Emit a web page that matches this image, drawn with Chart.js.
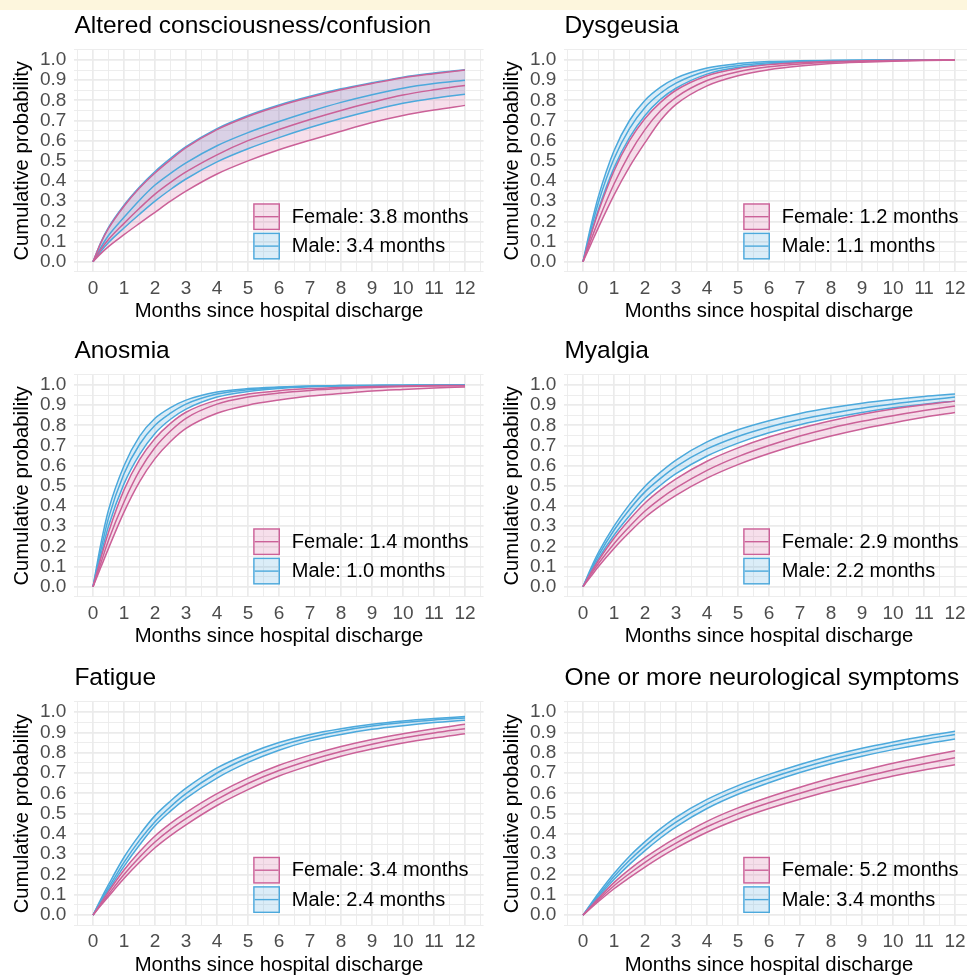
<!DOCTYPE html>
<html>
<head>
<meta charset="utf-8">
<script src="https://cdn.jsdelivr.net/npm/chart.js"></script>
<style>
html,body{margin:0;padding:0;background:#ffffff;}
body{width:967px;height:975px;overflow:hidden;position:relative;}
#band{position:absolute;left:0;top:0;width:967px;height:10px;background:#FDF6DD;}
canvas{position:absolute;}
</style>
</head>
<body>
<div id="band"></div>
<script>
// ---------------- DATA ----------------
const months = [0, 0.25, 0.5, 1, 1.5, 2, 2.5, 3, 4, 5, 6, 7, 8, 9, 10, 11, 12];
const xTickLabels = ['0','1','2','3','4','5','6','7','8','9','10','11','12'];
const yTickLabels = ['0.0','0.1','0.2','0.3','0.4','0.5','0.6','0.7','0.8','0.9','1.0'];
const panelTitles = ['Altered consciousness/confusion', 'Dysgeusia', 'Anosmia', 'Myalgia', 'Fatigue', 'One or more neurological symptoms'];
const femaleLabels = ['Female: 3.8 months', 'Female: 1.2 months', 'Female: 1.4 months', 'Female: 2.9 months', 'Female: 3.4 months', 'Female: 5.2 months'];
const maleLabels = ['Male: 3.4 months', 'Male: 1.1 months', 'Male: 1.0 months', 'Male: 2.2 months', 'Male: 2.4 months', 'Male: 3.4 months'];
const xAxisTitle = 'Months since hospital discharge';
const yAxisTitle = 'Cumulative probability';

// Altered consciousness/confusion
const confusionFemaleLow  = [0, .04, .075, .134, .19, .245, .30, .35, .435, .50, .555, .602, .647, .69, .725, .752, .775];
const confusionFemaleMid  = [0, .06, .11, .19, .265, .335, .393, .445, .53, .60, .655, .705, .75, .79, .826, .852, .874];
const confusionFemaleHigh = [0, .092, .165, .275, .365, .44, .505, .565, .655, .72, .772, .815, .852, .883, .912, .932, .95];
const confusionMaleLow    = [0, .05, .095, .167, .235, .30, .358, .41, .495, .56, .615, .665, .71, .75, .785, .81, .83];
const confusionMaleMid    = [0, .07, .13, .22, .305, .38, .438, .49, .575, .64, .695, .745, .79, .828, .86, .883, .90];
const confusionMaleHigh   = [0, .095, .17, .28, .37, .447, .512, .57, .66, .725, .777, .82, .857, .887, .915, .935, .952];

// Dysgeusia
const dysgeusiaFemaleLow  = [0, .085, .17, .33, .47, .59, .70, .78, .872, .922, .952, .97, .982, .989, .994, .997, .999];
const dysgeusiaFemaleMid  = [0, .105, .205, .385, .535, .655, .748, .815, .898, .942, .966, .98, .989, .994, .997, .999, 1];
const dysgeusiaFemaleHigh = [0, .13, .25, .45, .60, .71, .79, .85, .922, .958, .977, .987, .993, .996, .998, .999, 1];
const dysgeusiaMaleLow    = [0, .135, .26, .465, .615, .725, .805, .86, .93, .963, .98, .99, .995, .998, .999, 1, 1];
const dysgeusiaMaleMid    = [0, .155, .295, .51, .66, .765, .835, .885, .945, .972, .986, .993, .997, .999, 1, 1, 1];
const dysgeusiaMaleHigh   = [0, .175, .325, .55, .70, .80, .865, .91, .96, .982, .992, .996, .998, .999, 1, 1, 1];

// Anosmia
const anosmiaFemaleLow  = [0, .095, .19, .37, .52, .635, .72, .785, .86, .90, .925, .945, .958, .97, .978, .985, .99];
const anosmiaFemaleMid  = [0, .115, .23, .42, .575, .69, .772, .835, .905, .94, .96, .973, .982, .988, .992, .995, .996];
const anosmiaFemaleHigh = [0, .14, .27, .48, .63, .735, .81, .865, .925, .955, .972, .982, .988, .992, .995, .997, .998];
const anosmiaMaleLow    = [0, .155, .30, .51, .655, .76, .83, .88, .94, .968, .983, .991, .995, .997, .998, .999, 1];
const anosmiaMaleMid    = [0, .18, .34, .56, .705, .80, .86, .905, .955, .976, .988, .994, .997, .998, .999, .999, 1];
const anosmiaMaleHigh   = [0, .21, .38, .60, .745, .835, .888, .925, .965, .982, .99, .995, .997, .998, .999, 1, 1];

// Myalgia
const myalgiaFemaleLow  = [0, .05, .10, .19, .27, .343, .402, .453, .538, .605, .66, .707, .747, .782, .812, .84, .864];
const myalgiaFemaleMid  = [0, .06, .115, .213, .298, .375, .437, .49, .577, .645, .70, .747, .787, .82, .848, .873, .896];
const myalgiaFemaleHigh = [0, .068, .13, .24, .333, .415, .48, .535, .622, .688, .742, .786, .823, .855, .881, .902, .92];
const myalgiaMaleLow    = [0, .072, .14, .255, .352, .437, .503, .56, .648, .712, .763, .803, .836, .864, .887, .905, .92];
const myalgiaMaleMid    = [0, .08, .155, .28, .383, .47, .537, .595, .683, .745, .792, .829, .859, .885, .906, .924, .94];
const myalgiaMaleHigh   = [0, .09, .17, .30, .408, .498, .568, .628, .718, .778, .823, .859, .887, .91, .928, .943, .955];

// Fatigue
const fatigueFemaleLow  = [0, .047, .092, .18, .26, .332, .392, .445, .54, .618, .685, .737, .782, .818, .848, .872, .893];
const fatigueFemaleMid  = [0, .052, .102, .20, .285, .36, .422, .475, .57, .648, .712, .763, .806, .842, .872, .897, .918];
const fatigueFemaleHigh = [0, .058, .115, .222, .312, .39, .452, .505, .598, .675, .738, .788, .83, .865, .893, .918, .94];
const fatigueMaleLow    = [0, .064, .124, .24, .345, .44, .512, .575, .675, .752, .812, .858, .89, .915, .933, .948, .96];
const fatigueMaleMid    = [0, .07, .135, .26, .368, .46, .534, .598, .70, .775, .832, .875, .907, .931, .948, .961, .971];
const fatigueMaleHigh   = [0, .078, .15, .285, .395, .49, .562, .625, .725, .795, .85, .89, .918, .94, .956, .968, .978];

// One or more neurological symptoms
const neuroFemaleLow  = [0, .034, .067, .13, .185, .237, .286, .33, .408, .472, .525, .571, .613, .65, .685, .715, .74];
const neuroFemaleMid  = [0, .038, .075, .145, .205, .26, .31, .355, .435, .50, .553, .60, .643, .68, .715, .746, .775];
const neuroFemaleHigh = [0, .042, .083, .16, .225, .283, .334, .38, .462, .528, .582, .63, .674, .712, .748, .78, .81];
const neuroMaleLow    = [0, .045, .09, .175, .25, .318, .38, .435, .525, .595, .652, .702, .745, .782, .815, .843, .867];
const neuroMaleMid    = [0, .05, .098, .19, .27, .34, .403, .458, .548, .617, .673, .722, .765, .802, .835, .864, .89];
const neuroMaleHigh   = [0, .055, .108, .205, .29, .362, .426, .482, .57, .638, .693, .742, .785, .822, .853, .881, .905];

// ---------------- STYLE ----------------
const PINK = '#CB6198';
const BLUE = '#4CA9DC';
const PINK_FILL = 'rgba(215,110,165,0.22)';
const BLUE_FILL = 'rgba(90,175,225,0.22)';
const GRID = '#EBEBEB';
const FONT = "'Liberation Sans', Arial, Helvetica, sans-serif";

Chart.defaults.font.family = FONT;
Chart.defaults.color = '#000000';

const panels = [
  [confusionFemaleLow, confusionFemaleMid, confusionFemaleHigh, confusionMaleLow, confusionMaleMid, confusionMaleHigh],
  [dysgeusiaFemaleLow, dysgeusiaFemaleMid, dysgeusiaFemaleHigh, dysgeusiaMaleLow, dysgeusiaMaleMid, dysgeusiaMaleHigh],
  [anosmiaFemaleLow, anosmiaFemaleMid, anosmiaFemaleHigh, anosmiaMaleLow, anosmiaMaleMid, anosmiaMaleHigh],
  [myalgiaFemaleLow, myalgiaFemaleMid, myalgiaFemaleHigh, myalgiaMaleLow, myalgiaMaleMid, myalgiaMaleHigh],
  [fatigueFemaleLow, fatigueFemaleMid, fatigueFemaleHigh, fatigueMaleLow, fatigueMaleMid, fatigueMaleHigh],
  [neuroFemaleLow, neuroFemaleMid, neuroFemaleHigh, neuroMaleLow, neuroMaleMid, neuroMaleHigh]
];

// layout geometry
const COL_LEFT = [0, 490];
const ROWS = [{top: 0, area: 221.9}, {top: 325, area: 221.9}, {top: 652, area: 223.4}];
const Y_W = 74.4, TITLE_H = 49.9, X_H = 60, AREA_W = 409.2;

const ggLegend = {
  id: 'ggLegend',
  afterDraw(chart, args, opts) {
    const ctx = chart.ctx, a = chart.chartArea;
    const s = 26.8;
    ctx.save();
    opts.items.forEach((it, i) => {
      const x = a.left + 178.8;
      const y = a.bottom - 68.5 + i * 29.4;
      ctx.fillStyle = it.fill;
      ctx.fillRect(x, y, s, s);
      ctx.strokeStyle = it.line;
      ctx.lineWidth = 1.4;
      ctx.strokeRect(x + 0.7, y + 0.7, s - 1.4, s - 1.4);
      ctx.beginPath();
      ctx.moveTo(x + 1.4, y + s / 2);
      ctx.lineTo(x + s - 1.4, y + s / 2);
      ctx.stroke();
      ctx.fillStyle = '#000000';
      ctx.font = '20px ' + FONT;
      ctx.textBaseline = 'middle';
      ctx.textAlign = 'left';
      ctx.fillText(it.label, a.left + 217.4, y + s / 2 + 0.5);
    });
    ctx.restore();
  }
};

function isMajorX(v) { return Math.abs(v - Math.round(v)) < 1e-6; }
function isMajorY(v) { return Math.round(v * 20) % 2 === 0; }

function series(values, color, fill, bg) {
  return {
    data: months.map((m, i) => ({x: m, y: values[i]})),
    borderColor: color,
    borderWidth: 1.5,
    pointRadius: 0,
    fill: fill,
    backgroundColor: bg || 'transparent',
    cubicInterpolationMode: 'monotone'
  };
}

panels.forEach((p, idx) => {
  const col = idx % 2, row = Math.floor(idx / 2);
  const W = 486;
  const needH = TITLE_H + ROWS[row].area + X_H;
  const H = Math.ceil(needH);
  const cv = document.createElement('canvas');
  cv.width = W; cv.height = H;
  cv.style.left = COL_LEFT[col] + 'px';
  cv.style.top = ROWS[row].top + 'px';
  cv.style.width = W + 'px';
  cv.style.height = H + 'px';
  document.body.appendChild(cv);

  new Chart(cv, {
    type: 'line',
    data: {
      datasets: [
        series(p[0], PINK, false),
        series(p[1], PINK, false),
        series(p[2], PINK, '-2', PINK_FILL),
        series(p[3], BLUE, false),
        series(p[4], BLUE, false),
        series(p[5], BLUE, '-2', BLUE_FILL)
      ]
    },
    options: {
      responsive: false,
      animation: false,
      devicePixelRatio: 1,
      layout: {padding: {left: 0, top: 0, right: W - Y_W - AREA_W, bottom: H - needH}},
      scales: {
        x: {
          type: 'linear',
          min: -0.6, max: 12.6,
          bounds: 'data',
          afterBuildTicks: (s) => {
            const t = [];
            for (let k = -1; k <= 25; k++) t.push({value: k / 2});
            s.ticks = t;
          },
          afterFit: (s) => { s.height = X_H; },
          border: {display: false},
          grid: {
            drawTicks: false,
            color: GRID,
            lineWidth: (c) => isMajorX(c.tick.value) ? 1.7 : 0.9
          },
          ticks: {
            autoSkip: false, maxRotation: 0, minRotation: 0,
            padding: 5.4,
            color: '#4D4D4D',
            font: {size: 19},
            callback: (v) => isMajorX(v) ? xTickLabels[Math.round(v)] : ''
          },
          title: {
            display: true, text: xAxisTitle, color: '#000000',
            font: {size: 20.3},
            padding: {top: 0, bottom: 7.9}
          }
        },
        y: {
          type: 'linear',
          min: -0.05, max: 1.05,
          bounds: 'data',
          afterBuildTicks: (s) => {
            const t = [];
            for (let k = -1; k <= 21; k++) t.push({value: k / 20});
            s.ticks = t;
          },
          afterFit: (s) => { s.width = Y_W; },
          border: {display: false},
          grid: {
            drawTicks: false,
            color: GRID,
            lineWidth: (c) => isMajorY(c.tick.value) ? 1.7 : 0.9
          },
          ticks: {
            autoSkip: false,
            padding: 8,
            color: '#4D4D4D',
            font: {size: 19},
            callback: (v) => {
              const k = Math.round(v * 20);
              return (k % 2 === 0 && k >= 0 && k <= 20) ? yTickLabels[k / 2] : '';
            }
          },
          title: {
            display: true, text: yAxisTitle, color: '#000000',
            font: {size: 20.3},
            padding: {top: 9.8, bottom: 0}
          }
        }
      },
      plugins: {
        legend: {display: false},
        tooltip: {enabled: false},
        filler: {drawTime: 'beforeDatasetsDraw'},
        title: {
          display: true, text: panelTitles[idx], align: 'start', fullSize: false,
          color: '#000000',
          font: {size: 24.5, weight: 'normal'},
          padding: {top: 11.7, bottom: 8.8}
        },
        ggLegend: {
          items: [
            {label: femaleLabels[idx], line: PINK, fill: PINK_FILL},
            {label: maleLabels[idx], line: BLUE, fill: BLUE_FILL}
          ]
        }
      }
    },
    plugins: [ggLegend]
  });
});
</script>
</body>
</html>
